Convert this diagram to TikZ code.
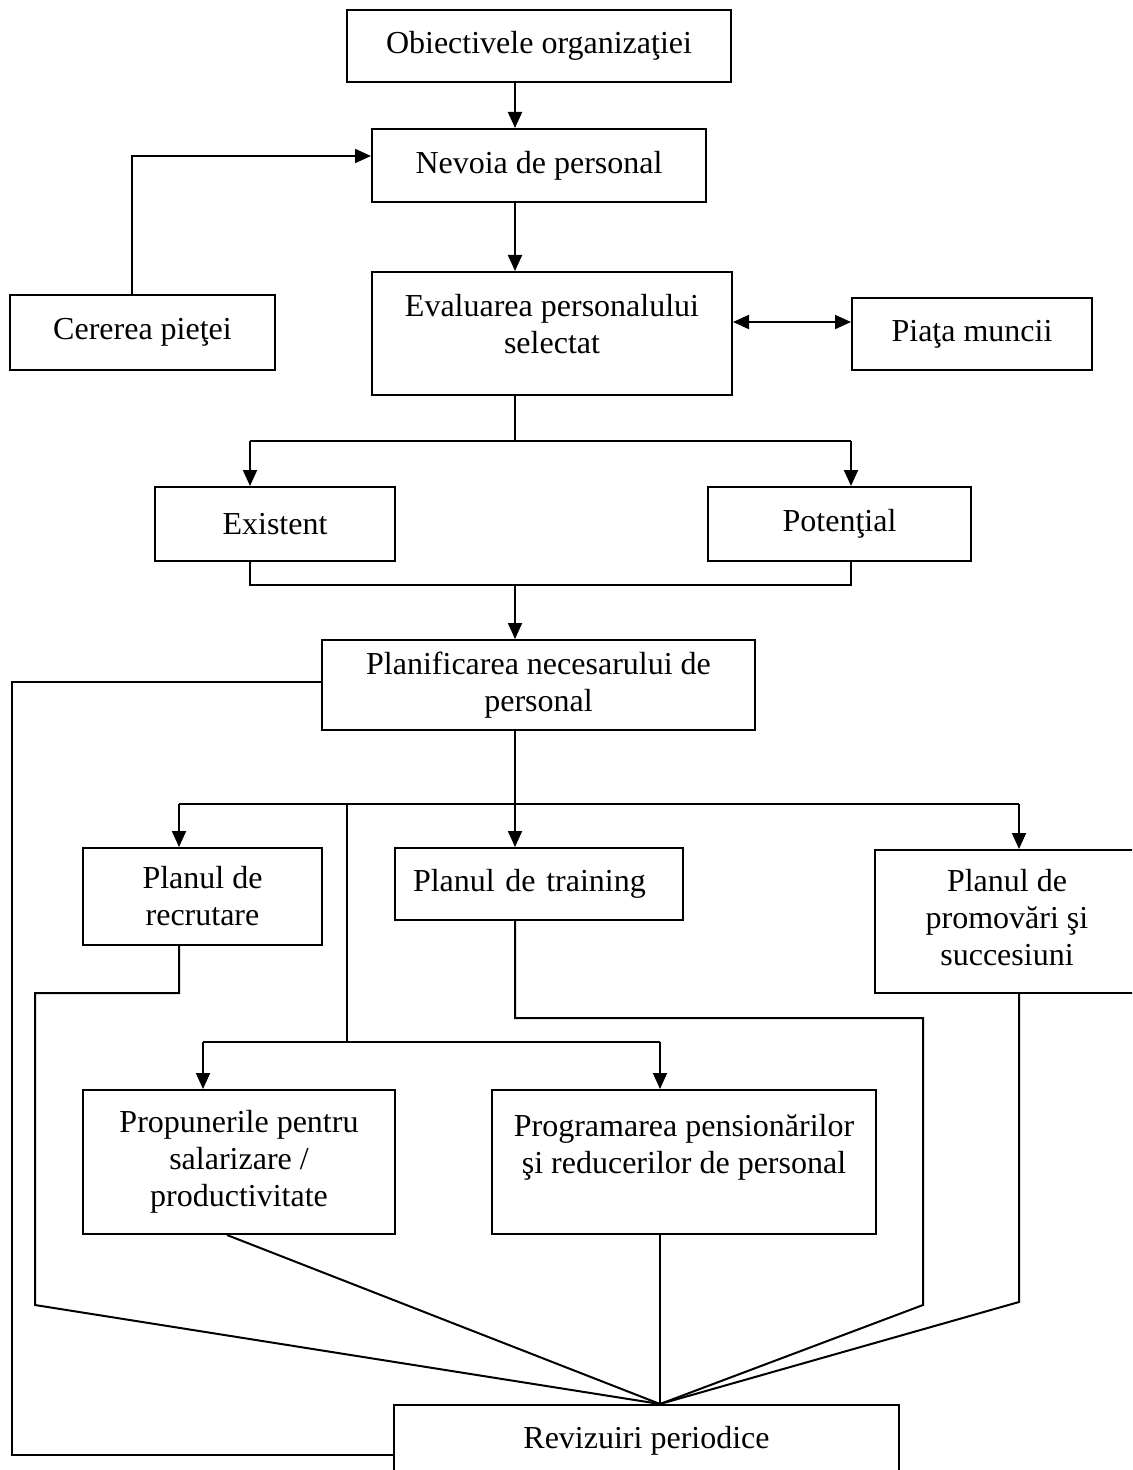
\documentclass[tikz,border=0pt]{standalone}
\usepackage{fontspec}
\setmainfont{Liberation Serif}
\usetikzlibrary{arrows.meta}
\begin{document}
\begin{tikzpicture}[x=0.5pt,y=-0.5pt]
\tikzset{
  box/.style={draw, line width=1pt, rectangle, inner sep=0pt, align=center,
    font=\fontsize{16pt}{18.5pt}\selectfont},
  conn/.style={line width=1pt, line join=miter},
  arr/.style={conn, -{Triangle[length=8pt,width=7pt]}},
  arrboth/.style={conn, {Triangle[length=8pt,width=7pt]}-{Triangle[length=8pt,width=7pt]}},
}
\useasboundingbox (0,0) rectangle (1132,1470);
\clip (0,0) rectangle (1132,1470);

% boxes
\node[box, minimum width=192pt, minimum height=36pt] (obj) at (539,46) {Obiectivele organizaţiei};
\node[box, minimum width=167pt, minimum height=36.5pt] (nev) at (539,165.5) {Nevoia de personal};
\node[box, minimum width=132.5pt, minimum height=37.5pt] (cer) at (142.5,332.5) {Cererea pieţei};
\node[box, minimum width=180pt, minimum height=61.5pt] (eva) at (552,333.5) {Evaluarea personalului\\ selectat\\[-8.5pt]\mbox{}};
\node[box, minimum width=120pt, minimum height=36pt] (pia) at (972,334) {Piaţa muncii};
\node[box, minimum width=120pt, minimum height=37pt] (exi) at (275,524) {Existent};
\node[box, minimum width=131.5pt, minimum height=37pt] (pot) at (839.5,524) {Potenţial};
\node[box, minimum width=216.5pt, minimum height=45pt] (pla) at (538.5,685) {Planificarea necesarului de\\ personal};
\node[box, minimum width=119.5pt, minimum height=48.5pt] (rec) at (202.5,896.5) {Planul de\\ recrutare};
\node[box, text width=126pt, inner xsep=9pt, align=left, minimum height=36pt] (tra) at (539,884) {Planul de training};
\node[box, minimum width=132pt, minimum height=71.5pt] (pro) at (1007,921.5) {Planul de\\ promovări şi\\ succesiuni\\[-14.5pt]\mbox{}};
\node[box, minimum width=156pt, minimum height=72pt] (prp) at (239,1162) {Propunerile pentru\\ salarizare /\\ productivitate};
\node[box, minimum width=192pt, minimum height=72pt] (prg) at (684,1162) {Programarea pensionărilor\\ şi reducerilor de personal\\ \mbox{}};
\node[box, minimum width=252.5pt, minimum height=36pt, anchor=north] (rev) at (646.5,1404) {Revizuiri periodice};

% helper points for the connector routes
\coordinate (x515) at (515,0);
\coordinate (c1) at (132,156);
\coordinate (y322) at (0,322);
\coordinate (s1) at (515,441);
\coordinate (s1L) at (250,441);
\coordinate (s1R) at (851,441);
\coordinate (m1) at (515,585);
\coordinate (m1L) at (250,585);
\coordinate (m1R) at (851,585);
\coordinate (lp1) at (12,682);
\coordinate (lp2) at (12,1455);
\coordinate (b0) at (515,804);
\coordinate (bL) at (179,804);
\coordinate (bM) at (347,804);
\coordinate (bR) at (1019,804);
\coordinate (cL) at (203,1042);
\coordinate (cM) at (347,1042);
\coordinate (cR) at (660,1042);
\coordinate (hub) at (660,1404);
\coordinate (x227) at (227,0);
\coordinate (r1) at (179,993);
\coordinate (r2) at (35,993);
\coordinate (r3) at (35,1305);
\coordinate (t1) at (515,1018);
\coordinate (t2) at (923,1018);
\coordinate (t3) at (923,1305);
\coordinate (p1) at (1019,1302);

% upper part
\draw[arr] (obj.south -| x515) -- (nev.north -| x515);
\draw[arr] (cer.north -| c1) -- (c1) -- (nev.west |- c1);
\draw[arr] (nev.south -| x515) -- (eva.north -| x515);
\draw[arrboth] (eva.east |- y322) -- (pia.west |- y322);

% split into existing / potential staff
\draw[conn] (eva.south -| s1) -- (s1);
\draw[conn] (s1L) -- (s1R);
\draw[arr] (s1L) -- (exi.north -| s1L);
\draw[arr] (s1R) -- (pot.north -| s1R);

% merge into planning
\draw[conn] (exi.south -| m1L) -- (m1L) -- (m1R) -- (pot.south -| m1R);
\draw[arr] (m1) -- (pla.north -| m1);

% feedback loop to periodic reviews
\draw[conn] (pla.west |- lp1) -- (lp1) -- (lp2) -- (rev.west |- lp2);

% plans
\draw[conn] (pla.south -| b0) -- (b0);
\draw[conn] (bL) -- (bR);
\draw[arr] (bL) -- (rec.north -| bL);
\draw[arr] (b0) -- (tra.north -| b0);
\draw[arr] (bR) -- (pro.north -| bR);
\draw[conn] (bM) -- (cM);
\draw[conn] (cL) -- (cR);
\draw[arr] (cL) -- (prp.north -| cL);
\draw[arr] (cR) -- (prg.north -| cR);

% everything converges on the periodic reviews
\draw[conn] (rec.south -| r1) -- (r1) -- (r2) -- (r3) -- (hub);
\draw[conn] (tra.south -| t1) -- (t1) -- (t2) -- (t3) -- (hub);
\draw[conn] (pro.south -| p1) -- (p1) -- (hub);
\draw[conn] (prp.south -| x227) -- (hub);
\draw[conn] (prg.south -| hub) -- (hub);
\end{tikzpicture}
\end{document}
